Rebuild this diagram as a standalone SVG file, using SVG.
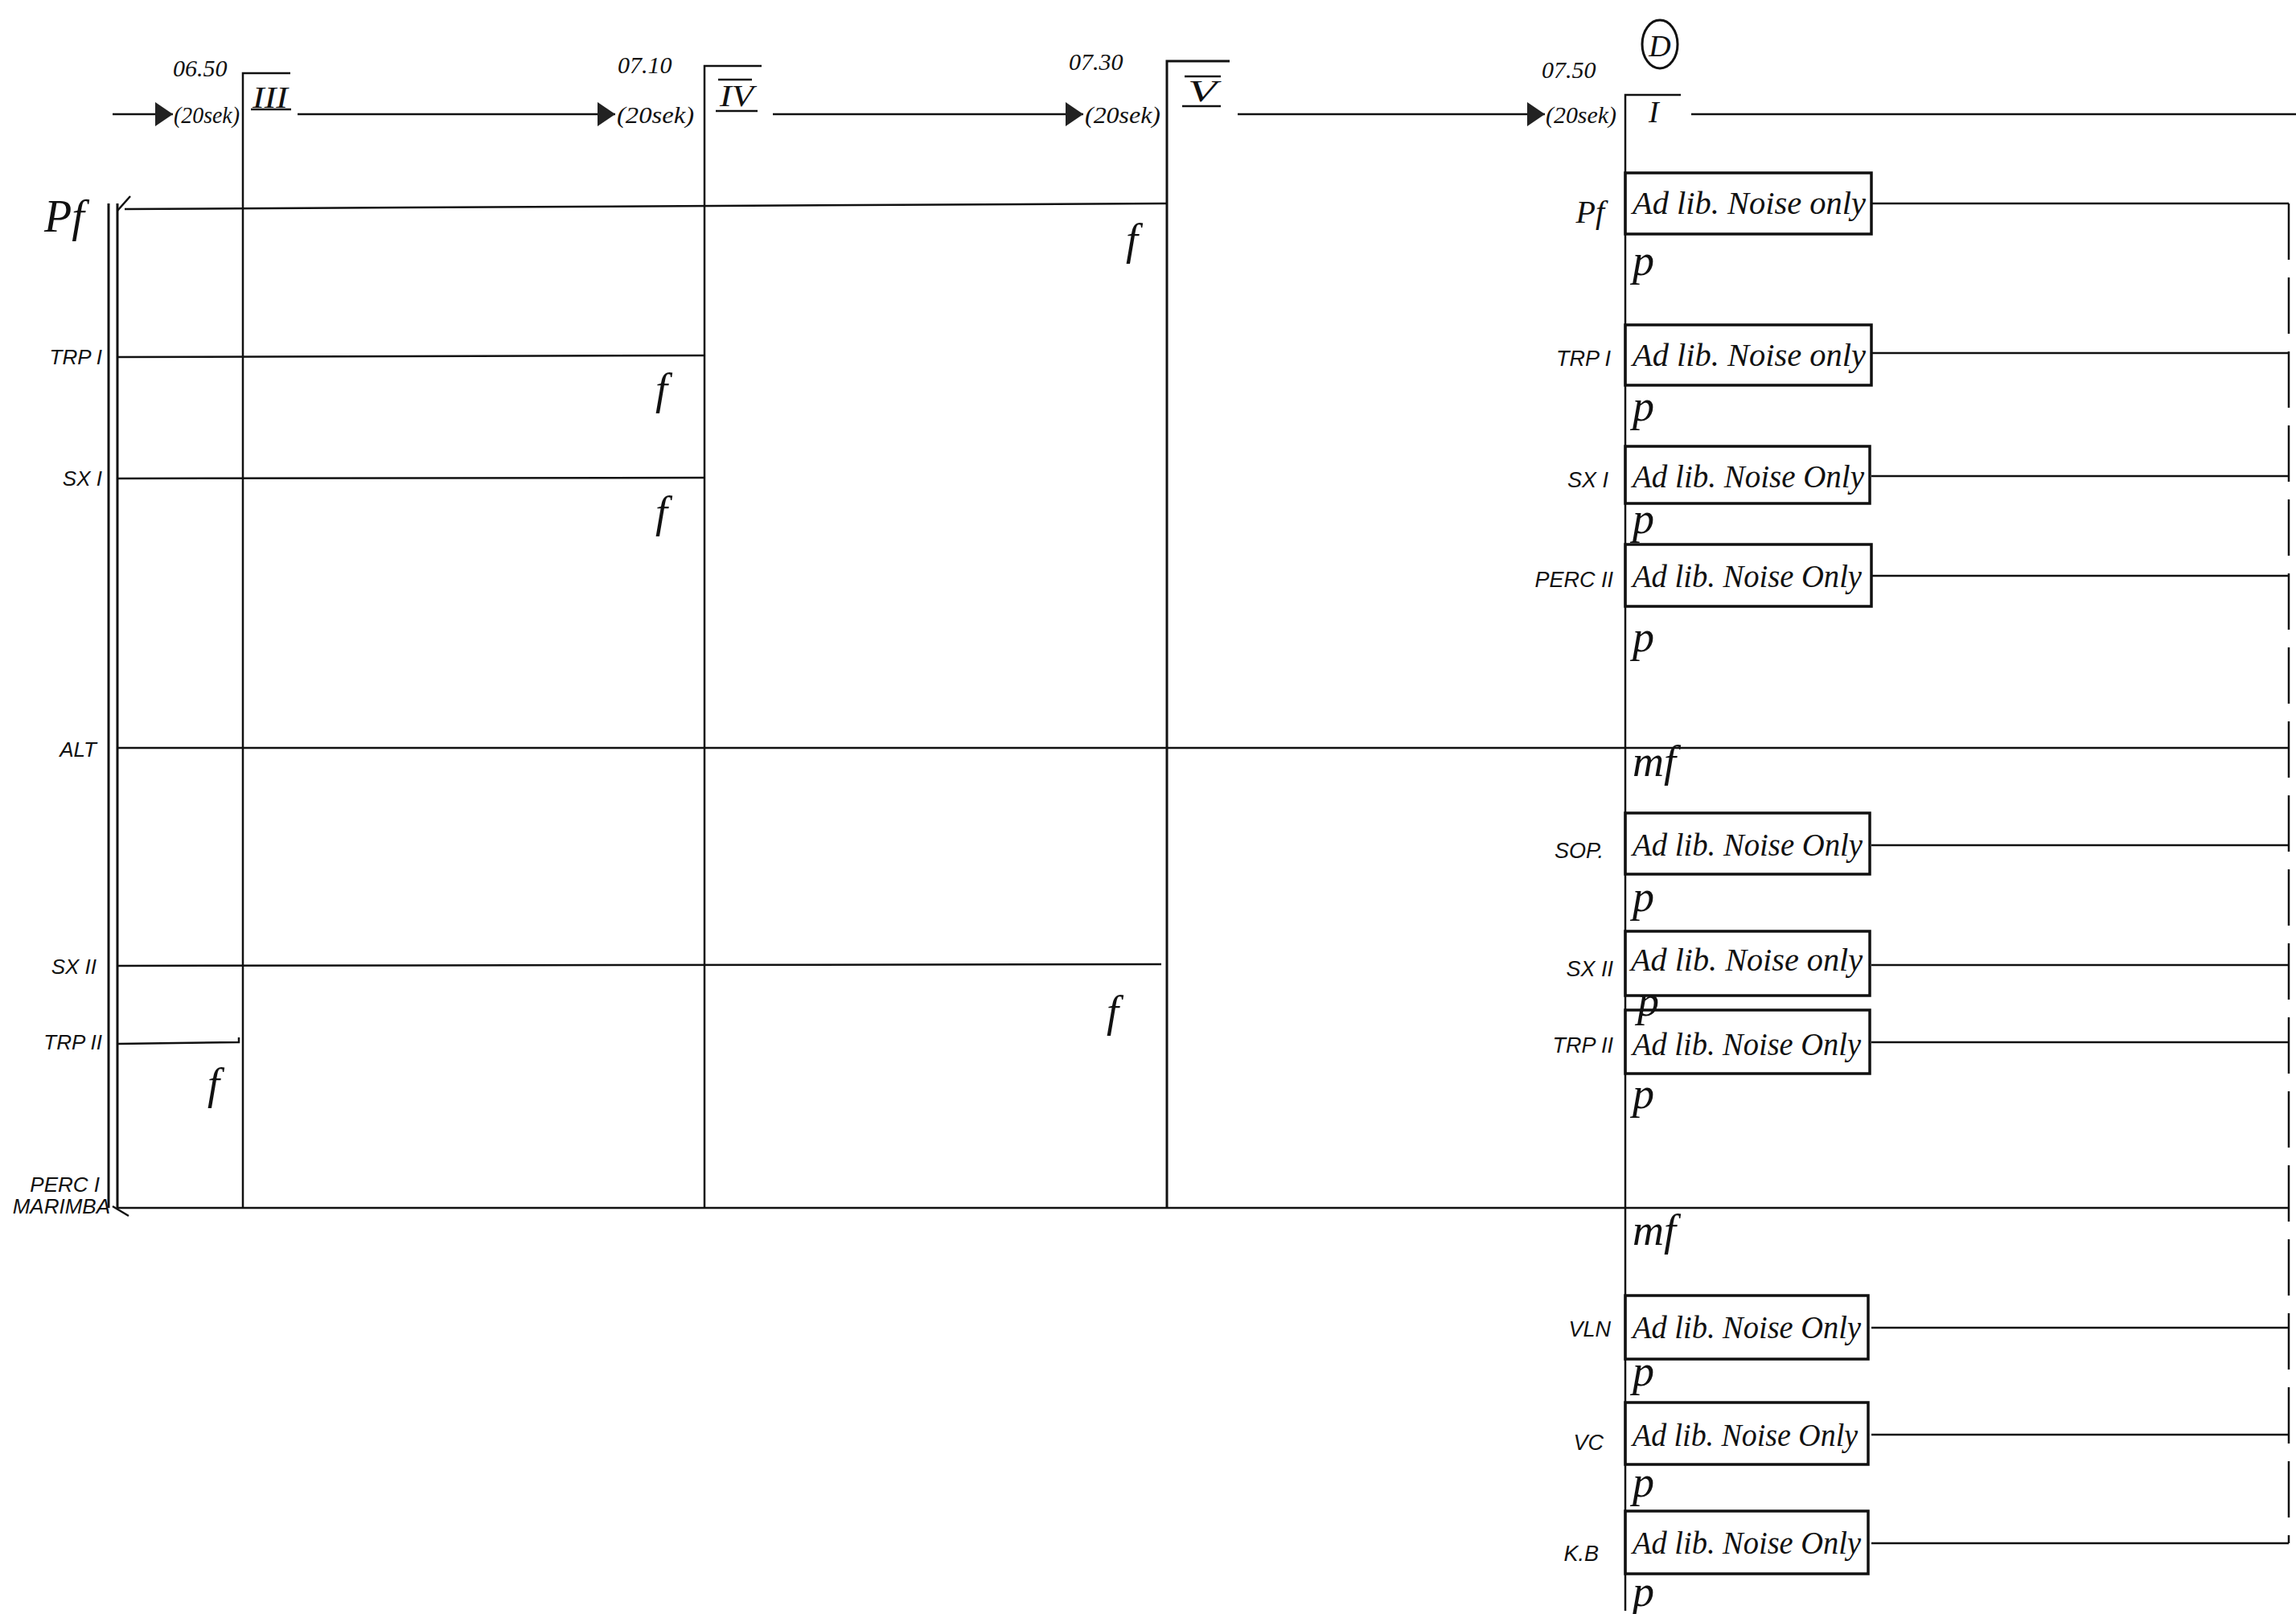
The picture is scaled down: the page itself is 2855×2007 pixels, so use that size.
<svg xmlns="http://www.w3.org/2000/svg" width="2855" height="2007" viewBox="0 0 2855 2007">
<style>
.ln{stroke:#111;stroke-width:2.5;fill:none}
.thick{stroke:#111;stroke-width:3;fill:none}
.box{stroke:#111;stroke-width:3.5;fill:none}
.hand{font-family:"Liberation Serif",serif;font-style:italic;fill:#111}
.time{font-family:"Liberation Serif",serif;font-style:italic;font-size:30px;fill:#111}
.sek{font-family:"Liberation Serif",serif;font-style:italic;font-size:30px;fill:#111}
.lab{font-family:"Liberation Sans",sans-serif;font-style:italic;font-size:26px;fill:#111}
.rlab{font-family:"Liberation Sans",sans-serif;font-style:italic;font-size:27px;fill:#111;text-anchor:end}
.adlib{font-family:"Liberation Serif",serif;font-style:italic;font-size:40px;fill:#111}
.dyn{font-family:"Liberation Serif",serif;font-style:italic;font-size:54px;fill:#111}
.roman{font-family:"Liberation Serif",serif;font-style:italic;font-size:38px;fill:#111}
</style>
<defs>
<marker id="tri" markerUnits="userSpaceOnUse" markerWidth="24" markerHeight="32" refX="22" refY="15" orient="auto">
<path d="M0,0 L22,15 L0,30 z" fill="#222"/>
</marker>
</defs>
<rect width="2855" height="2007" fill="#fff"/>

<g id="connectors">
<!-- timeline -->
<line class="ln" x1="140" y1="142" x2="215" y2="142" marker-end="url(#tri)"/>
<line class="ln" x1="370" y1="142" x2="765" y2="142" marker-end="url(#tri)"/>
<line class="ln" x1="961" y1="142" x2="1347" y2="142" marker-end="url(#tri)"/>
<line class="ln" x1="1539" y1="142" x2="1921" y2="142" marker-end="url(#tri)"/>
<line class="ln" x1="2103" y1="142" x2="2855" y2="142"/>
<!-- section verticals -->
<polyline class="ln" points="361,91 302,91 302,1502"/>
<polyline class="ln" points="947,82 876,82 876,1502"/>
<polyline class="thick" points="1529,76 1451,76 1451,1502"/>
<polyline class="ln" points="2090,118 2021,118 2021,2003"/>
<!-- left double bar -->
<line class="thick" x1="135" y1="253" x2="135" y2="1502"/>
<line class="thick" x1="146" y1="253" x2="146" y2="1502"/>
<path class="ln" d="M146,262 L162,244"/>
<path class="ln" d="M140,1500 L160,1512"/>
<!-- instrument lines left -->
<line class="ln" x1="155" y1="260" x2="1451" y2="253"/>
<line class="ln" x1="146" y1="444" x2="876" y2="442"/>
<line class="ln" x1="146" y1="595" x2="876" y2="594"/>
<line class="ln" x1="146" y1="930" x2="2846" y2="930"/>
<line class="ln" x1="146" y1="1201" x2="1444" y2="1199"/>
<polyline class="ln" points="146,1298 297,1296 297,1290"/>
<line class="ln" x1="146" y1="1502" x2="2846" y2="1502"/>
<!-- right lines from boxes -->
<line class="ln" x1="2327" y1="253" x2="2846" y2="253"/>
<line class="ln" x1="2327" y1="439" x2="2846" y2="439"/>
<line class="ln" x1="2327" y1="592" x2="2846" y2="592"/>
<line class="ln" x1="2327" y1="716" x2="2846" y2="716"/>
<line class="ln" x1="2327" y1="1051" x2="2846" y2="1051"/>
<line class="ln" x1="2327" y1="1200" x2="2846" y2="1200"/>
<line class="ln" x1="2327" y1="1296" x2="2846" y2="1296"/>
<line class="ln" x1="2327" y1="1651" x2="2846" y2="1651"/>
<line class="ln" x1="2327" y1="1784" x2="2846" y2="1784"/>
<line class="ln" x1="2327" y1="1919" x2="2846" y2="1919"/>
<!-- right dashed end -->
<line class="ln" x1="2846" y1="253" x2="2846" y2="1919" stroke-dasharray="70 22"/>
</g>

<g id="section-III">
<text class="time" x="215" y="95">06.50</text>
<text class="sek" x="216" y="153" textLength="82" lengthAdjust="spacingAndGlyphs">(20sek)</text>
<text class="roman" x="314" y="134" textLength="44" lengthAdjust="spacingAndGlyphs">III</text>
<line class="ln" x1="312" y1="136" x2="362" y2="136"/>
</g>
<g id="section-IV">
<text class="time" x="768" y="91">07.10</text>
<text class="sek" x="767" y="153" textLength="96" lengthAdjust="spacingAndGlyphs">(20sek)</text>
<text class="roman" x="895" y="132" textLength="42" lengthAdjust="spacingAndGlyphs">IV</text>
<line class="ln" x1="893" y1="99" x2="935" y2="99"/>
<line class="ln" x1="890" y1="138" x2="942" y2="138"/>
</g>
<g id="section-V">
<text class="time" x="1329" y="87">07.30</text>
<text class="sek" x="1349" y="153" textLength="94" lengthAdjust="spacingAndGlyphs">(20sek)</text>
<text class="roman" x="1477" y="126" textLength="36" lengthAdjust="spacingAndGlyphs">V</text>
<line class="ln" x1="1473" y1="95" x2="1518" y2="95"/>
<line class="ln" x1="1470" y1="132" x2="1518" y2="132"/>
</g>
<g id="section-D">
<text class="time" x="1917" y="97">07.50</text>
<text class="sek" x="1922" y="153" textLength="88" lengthAdjust="spacingAndGlyphs">(20sek)</text>
<ellipse cx="2064" cy="55" rx="22" ry="30" fill="none" stroke="#111" stroke-width="3"/>
<text class="roman" x="2064" y="70" text-anchor="middle" font-size="40">D</text>
<text class="roman" x="2050" y="152">I</text>
</g>

<g id="left-labels">
<text class="hand" x="55" y="288" font-size="56">Pf</text>
<text class="lab" x="127" y="453" text-anchor="end">TRP I</text>
<text class="lab" x="127" y="604" text-anchor="end">SX I</text>
<text class="lab" x="120" y="941" text-anchor="end">ALT</text>
<text class="lab" x="120" y="1211" text-anchor="end">SX II</text>
<text class="lab" x="127" y="1305" text-anchor="end">TRP II</text>
<text class="lab" x="124" y="1482" text-anchor="end" font-size="20">PERC I</text>
<text class="lab" x="137" y="1509" text-anchor="end" font-size="18">MARIMBA</text>
</g>

<g id="left-dynamics">
<text class="dyn" x="1400" y="316">f</text>
<text class="dyn" x="815" y="502">f</text>
<text class="dyn" x="815" y="655">f</text>
<text class="dyn" x="1376" y="1276">f</text>
<text class="dyn" x="258" y="1366">f</text>
</g>

<g id="row-pf">
<text class="hand" x="1995" y="277" font-size="40" text-anchor="end">Pf</text>
<rect class="box" x="2021" y="215" width="306" height="76"/>
<text class="adlib" x="2030" y="266" textLength="290" lengthAdjust="spacingAndGlyphs">Ad lib. Noise only</text>
<text class="dyn" x="2030" y="342">p</text>
</g>
<g id="row-trp1">
<text class="rlab" x="2003" y="455">TRP I</text>
<rect class="box" x="2021" y="404" width="306" height="75"/>
<text class="adlib" x="2030" y="455" textLength="290" lengthAdjust="spacingAndGlyphs">Ad lib. Noise only</text>
<text class="dyn" x="2030" y="523">p</text>
</g>
<g id="row-sx1">
<text class="rlab" x="2000" y="606">SX I</text>
<rect class="box" x="2021" y="555" width="304" height="71"/>
<text class="adlib" x="2030" y="606" textLength="288" lengthAdjust="spacingAndGlyphs">Ad lib. Noise Only</text>
<text class="dyn" x="2030" y="663">p</text>
</g>
<g id="row-perc2">
<text class="rlab" x="2006" y="730">PERC II</text>
<rect class="box" x="2021" y="677" width="306" height="77"/>
<text class="adlib" x="2030" y="730" textLength="285" lengthAdjust="spacingAndGlyphs">Ad lib. Noise Only</text>
<text class="dyn" x="2030" y="810">p</text>
</g>
<g id="row-alt">
<text class="dyn" x="2030" y="965" font-size="46">mf</text>
</g>
<g id="row-sop">
<text class="rlab" x="1994" y="1067">SOP.</text>
<rect class="box" x="2021" y="1011" width="304" height="76"/>
<text class="adlib" x="2030" y="1064" textLength="286" lengthAdjust="spacingAndGlyphs">Ad lib. Noise Only</text>
<text class="dyn" x="2030" y="1133">p</text>
</g>
<g id="row-sx2">
<text class="rlab" x="2006" y="1214">SX II</text>
<rect class="box" x="2021" y="1158" width="304" height="80"/>
<text class="adlib" x="2028" y="1207" textLength="288" lengthAdjust="spacingAndGlyphs">Ad lib. Noise only</text>
<text class="dyn" x="2036" y="1263" font-size="30">p</text>
</g>
<g id="row-trp2">
<text class="rlab" x="2006" y="1309">TRP II</text>
<rect class="box" x="2021" y="1256" width="304" height="79"/>
<text class="adlib" x="2030" y="1312" textLength="284" lengthAdjust="spacingAndGlyphs">Ad lib. Noise Only</text>
<text class="dyn" x="2030" y="1378">p</text>
</g>
<g id="row-perc1">
<text class="dyn" x="2030" y="1548" font-size="46">mf</text>
</g>
<g id="row-vln">
<text class="rlab" x="2003" y="1662">VLN</text>
<rect class="box" x="2021" y="1611" width="302" height="79"/>
<text class="adlib" x="2030" y="1664" textLength="284" lengthAdjust="spacingAndGlyphs">Ad lib. Noise Only</text>
<text class="dyn" x="2030" y="1723">p</text>
</g>
<g id="row-vc">
<text class="rlab" x="1994" y="1803">VC</text>
<rect class="box" x="2021" y="1744" width="302" height="77"/>
<text class="adlib" x="2030" y="1798" textLength="280" lengthAdjust="spacingAndGlyphs">Ad lib. Noise Only</text>
<text class="dyn" x="2030" y="1861">p</text>
</g>
<g id="row-kb">
<text class="rlab" x="1988" y="1941">K.B</text>
<rect class="box" x="2021" y="1879" width="302" height="78"/>
<text class="adlib" x="2030" y="1932" textLength="284" lengthAdjust="spacingAndGlyphs">Ad lib. Noise Only</text>
<text class="dyn" x="2030" y="1997">p</text>
</g>
</svg>
